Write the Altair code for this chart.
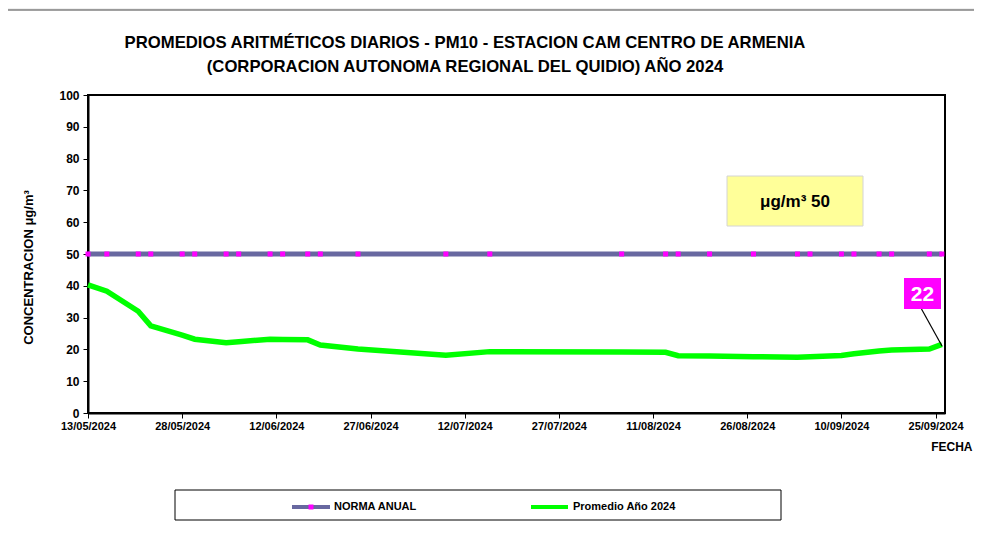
import altair as alt
import pandas as pd

# ---------------- data ----------------
FECHAS = ["2024-05-13", "2024-05-16", "2024-05-21", "2024-05-23", "2024-05-28",
          "2024-05-30", "2024-06-04", "2024-06-06", "2024-06-11", "2024-06-13",
          "2024-06-17", "2024-06-19", "2024-06-25", "2024-07-09", "2024-07-16",
          "2024-08-06", "2024-08-13", "2024-08-15", "2024-08-20", "2024-08-27",
          "2024-09-03", "2024-09-05", "2024-09-10", "2024-09-12", "2024-09-16",
          "2024-09-18", "2024-09-24", "2024-09-26"]
PROMEDIO = [40.3, 38.3, 32.0, 27.4, 24.5, 23.2, 22.1, 22.4, 23.2, 23.1,
            23.0, 21.4, 20.1, 18.2, 19.3, 19.2, 19.1, 18.0, 17.9, 17.7,
            17.5, 17.7, 18.1, 18.6, 19.5, 19.8, 20.1, 21.6]
NORMA_ANUAL = 50

TICK_FECHAS = ["13/05/2024", "28/05/2024", "12/06/2024", "27/06/2024", "12/07/2024",
               "27/07/2024", "11/08/2024", "26/08/2024", "10/09/2024", "25/09/2024"]
Y_TICKS = [0, 10, 20, 30, 40, 50, 60, 70, 80, 90, 100]

TITULO = ["PROMEDIOS ARITMÉTICOS DIARIOS - PM10 -  ESTACION CAM CENTRO DE ARMENIA",
          "(CORPORACION AUTONOMA REGIONAL DEL QUIDIO) AÑO 2024"]
Y_TITULO = "CONCENTRACION μg/m³"
X_TITULO = "FECHA"
SERIES = ["NORMA ANUAL", "Promedio Año 2024"]
NOTA = "μg/m³ 50"
ULTIMO = "22"

# ---------------- styles ----------------
ARIAL = "Liberation Sans, Arial, sans-serif"
C_NORMA = "#6868A0"
C_MARK = "#FF00FF"
C_PROM = "#00FF00"
C_PAGE = "#F0F0F0"

W, H = 857, 318

df = pd.DataFrame({
    "fecha": [f + "T00:00:00" for f in FECHAS],
    "prom": PROMEDIO,
    "norma": [NORMA_ANUAL for _ in FECHAS],
})


def to_dt(s):
    d, m, y = s.split("/")
    return alt.DateTime(year=int(y), month=int(m), date=int(d))


x_scale = alt.Scale(domain=[alt.DateTime(year=2024, month=5, date=13),
                            alt.DateTime(year=2024, month=9, date=26, hours=12)],
                    nice=False)
y_scale = alt.Scale(domain=[0, 100], nice=False)

x_axis = alt.Axis(values=[to_dt(t) for t in TICK_FECHAS], format="%d/%m/%Y",
                  labelFont=ARIAL, labelFontWeight="bold", labelFontSize=11,
                  labelColor="black", labelPadding=2, labelFlush=False, labelOverlap=False,
                  tickColor="black", tickSize=5, domainColor="black", domainWidth=2,
                  grid=False, title=X_TITULO, titleFont=ARIAL, titleFontWeight="bold",
                  titleFontSize=12, titleColor="black", titleX=884, titleY=40,
                  titleAlign="right", titleBaseline="bottom", titleAnchor="end")
y_axis = alt.Axis(values=Y_TICKS, labelFont=ARIAL, labelFontWeight="bold",
                  labelFontSize=12, labelColor="black", labelPadding=4,
                  labelOverlap=False, tickCount=11,
                  tickColor="black", tickSize=5, domainColor="black", domainWidth=2,
                  grid=False, title=Y_TITULO, titleFont=ARIAL, titleFontWeight="bold",
                  titleFontSize=13, titleColor="black", titleX=-60, titleY=172,
                  titleAngle=270, titleAlign="center", titleBaseline="middle")

base = alt.Chart(df)
X = alt.X("fecha:T", scale=x_scale, axis=x_axis)

norma_line = base.mark_line(color=C_NORMA, strokeWidth=5).encode(
    x=X, y=alt.Y("norma:Q", scale=y_scale, axis=y_axis))
norma_pts = base.mark_square(color=C_MARK, size=25, opacity=1).encode(
    x=X, y=alt.Y("norma:Q", scale=y_scale, axis=y_axis))
prom_line = base.mark_line(color=C_PROM, strokeWidth=5.5).encode(
    x=X, y=alt.Y("prom:Q", scale=y_scale, axis=y_axis))


def one(**kw):
    return alt.Chart(pd.DataFrame({k: [v] for k, v in kw.items()}))


# page frame (grey band + panel top border)
frame_t = one(t="frame").mark_rect(fill=C_PAGE).encode(
    x=alt.value(-90), x2=alt.value(890), y=alt.value(-90), y2=alt.value(-85))
frame_lt = one(t="frame").mark_rule(color="#444444", strokeWidth=1).encode(
    x=alt.value(-90), x2=alt.value(890), y=alt.value(-85))

# title
t1 = one(t=TITULO[0]).mark_text(font=ARIAL, fontSize=16.7, fontWeight="bold",
                                 align="center", baseline="alphabetic", color="black").encode(
    x=alt.value(377), y=alt.value(-47), text="t:N")
t2 = one(t=TITULO[1]).mark_text(font=ARIAL, fontSize=16.7, fontWeight="bold",
                                 align="center", baseline="alphabetic", color="black").encode(
    x=alt.value(377), y=alt.value(-23), text="t:N")

# yellow note box
nota_box = one(t=NOTA).mark_rect(fill="#FFFF99", stroke="#D4D4D4", strokeWidth=1).encode(
    x=alt.value(639), x2=alt.value(775), y=alt.value(81), y2=alt.value(131))
nota_txt = one(t=NOTA).mark_text(font=ARIAL, fontSize=17, fontWeight="bold",
                                 align="center", baseline="middle", color="black").encode(
    x=alt.value(707), y=alt.value(107), text="t:N")

# last value label
lab_line = one(t=ULTIMO).mark_rule(color="black", strokeWidth=1.2).encode(
    x=alt.value(833.5), y=alt.value(214), x2=alt.value(854), y2=alt.value(251))
lab_box = one(t=ULTIMO).mark_rect(fill=C_MARK).encode(
    x=alt.value(816), x2=alt.value(853), y=alt.value(183), y2=alt.value(214))
lab_txt = one(t=ULTIMO).mark_text(font=ARIAL, fontSize=21, fontWeight="bold",
                                  align="center", baseline="middle", color="white").encode(
    x=alt.value(834.5), y=alt.value(199.5), text="t:N")

# legend
leg_box = one(t="leg").mark_rect(fill="white", stroke="black", strokeWidth=1).encode(
    x=alt.value(87), x2=alt.value(693), y=alt.value(395), y2=alt.value(425))
leg_l1 = one(t=SERIES[0]).mark_rule(color=C_NORMA, strokeWidth=4).encode(
    x=alt.value(204), x2=alt.value(242), y=alt.value(412))
leg_p1 = one(t=SERIES[0]).mark_square(color=C_MARK, size=25, opacity=1).encode(
    x=alt.value(223), y=alt.value(412))
leg_t1 = one(t=SERIES[0]).mark_text(font=ARIAL, fontSize=11, fontWeight="bold",
                                    align="left", baseline="middle", color="black").encode(
    x=alt.value(246), y=alt.value(412), text="t:N")
leg_l2 = one(t=SERIES[1]).mark_rule(color=C_PROM, strokeWidth=4).encode(
    x=alt.value(443), x2=alt.value(480), y=alt.value(412))
leg_t2 = one(t=SERIES[1]).mark_text(font=ARIAL, fontSize=11, fontWeight="bold",
                                    align="left", baseline="middle", color="black").encode(
    x=alt.value(485), y=alt.value(412), text="t:N")

chart = alt.layer(
    frame_t, frame_lt,
    norma_line, norma_pts, prom_line,
    t1, t2, nota_box, nota_txt, lab_line, lab_box, lab_txt,
    leg_box, leg_l1, leg_p1, leg_t1, leg_l2, leg_t2,
).properties(
    width=W, height=H,
    autosize=alt.AutoSizeParams(type="none"),
    padding={"left": 80, "top": 87, "right": 29, "bottom": 115},
    background="white",
).configure_view(stroke="black", strokeWidth=2)

chart.save("out.html", embed_options={"renderer": "svg", "actions": False})
